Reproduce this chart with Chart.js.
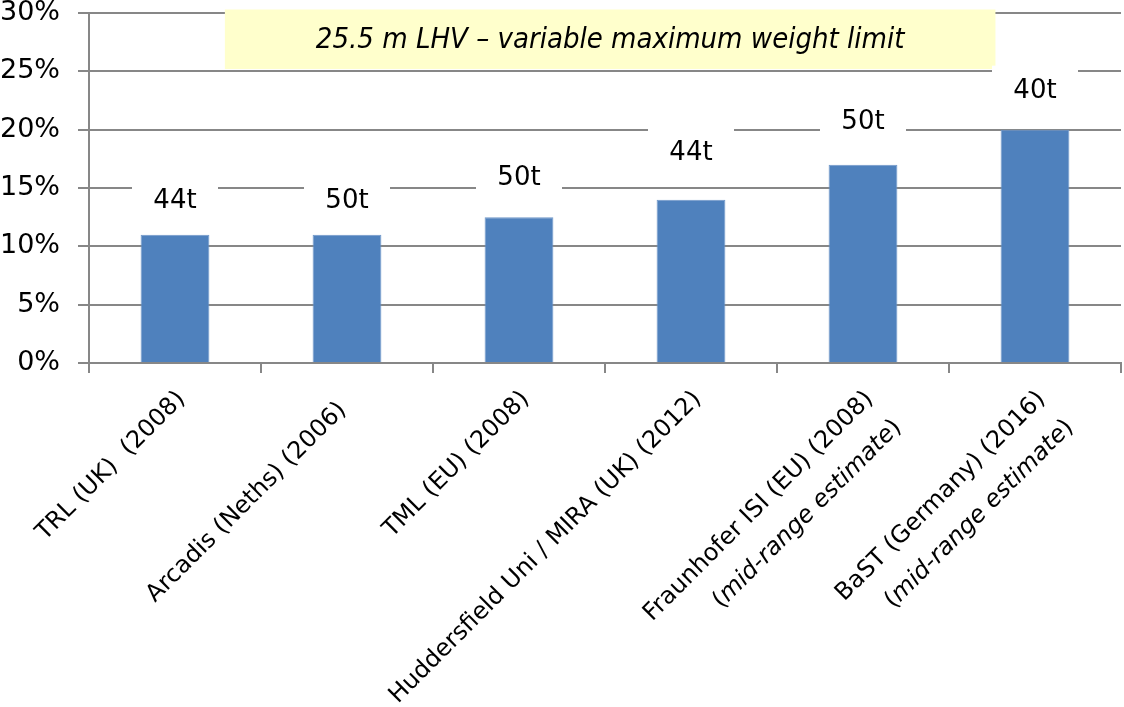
<!DOCTYPE html>
<html>
<head>
<meta charset="utf-8">
<script src="https://cdn.jsdelivr.net/npm/chart.js@4.4.0/dist/chart.umd.min.js"></script>
<style>
    html, body { margin: 0; padding: 0; background: #ffffff; }
</style>
</head>
<body>
<canvas id="myChart" width="1124" height="707"></canvas>
<script>

// dades
const estudis = ["TRL (UK)  (2008)", "Arcadis (Neths) (2006)  ", "TML (EU) (2008)",
                 "Huddersfield Uni / MIRA (UK) (2012)", "Fraunhofer ISI (EU) (2008)", "BaST (Germany) (2016)"];
const estudis_linia2 = ["", "", "", "", "mid-range estimate", "mid-range estimate"];
const augment = [11, 11, 12.5, 14, 17, 20];
const pes_max = ["44t", "50t", "50t", "44t", "50t", "40t"];
const etiquetes_y = ["0%", "5%", "10%", "15%", "20%", "25%", "30%"];
const titol_caixa = "25.5 m LHV \u2013 variable maximum weight limit";

const gris = '#878787';
const font_base = "'DejaVu Sans', sans-serif";

// caixa groga del titol (coordenades en unitats d'eix)
const caixaGroga = {
    id: 'caixaGroga',
    beforeDatasetsDraw(chart) {
        const ctx = chart.ctx;
        const x = chart.scales.x, y = chart.scales.y;
        const x0 = x.getPixelForValue(0.29), x1 = x.getPixelForValue(4.77);
        const y0 = y.getPixelForValue(30.3), y1 = y.getPixelForValue(25.2);
        ctx.save();
        ctx.fillStyle = '#FFFFCC';
        ctx.fillRect(x0, y0, x1 - x0, y1 - y0);
        ctx.fillStyle = '#000';
        ctx.font = "italic 29px 'DejaVu Sans Condensed', 'Liberation Sans Narrow', sans-serif";
        ctx.textAlign = 'center';
        ctx.textBaseline = 'middle';
        ctx.fillText(titol_caixa, (x0 + x1) / 2, (y0 + y1) / 2 + 1);
        ctx.restore();
    }
};

// etiquetes de pes damunt les barres, amb fons blanc
const etiquetesPes = {
    id: 'etiquetesPes',
    afterDatasetsDraw(chart) {
        const ctx = chart.ctx;
        const meta = chart.getDatasetMeta(0);
        const despl = [34, 34, 40, 47, 43, 39];
        ctx.save();
        ctx.font = "26px " + font_base;
        ctx.textAlign = 'center';
        ctx.textBaseline = 'middle';
        meta.data.forEach(function(bar, i) {
            const cy = bar.y - despl[i];
            ctx.fillStyle = '#ffffff';
            ctx.fillRect(bar.x - 43, cy - 25, 86, 50);
            ctx.fillStyle = '#000000';
            ctx.fillText(pes_max[i], bar.x, cy + 1);
        });
        ctx.restore();
    }
};

// etiquetes de l'eix x girades 45 graus
const etiquetesX = {
    id: 'etiquetesX',
    afterDraw(chart) {
        const ctx = chart.ctx;
        const x = chart.scales.x;
        const base = chart.chartArea.bottom;
        const normal = "24px " + font_base;
        const cursiva = "italic 24px " + font_base;
        ctx.save();
        ctx.fillStyle = '#000000';
        ctx.textBaseline = 'alphabetic';
        estudis.forEach(function(txt, i) {
            const cx = x.getPixelForValue(i);
            ctx.save();
            ctx.translate(cx + 11, base + 37);
            ctx.rotate(-Math.PI / 4);
            ctx.textAlign = 'right';
            ctx.font = normal;
            ctx.fillText(txt, 0, 0);
            if (estudis_linia2[i] != "") {
                // "(" normal + text en cursiva + ")" normal
                let px = 0;
                ctx.font = normal;
                ctx.fillText(")", px, 40);
                px -= ctx.measureText(")").width;
                ctx.font = cursiva;
                ctx.fillText(estudis_linia2[i], px, 40);
                px -= ctx.measureText(estudis_linia2[i]).width;
                ctx.font = normal;
                ctx.fillText("(", px, 40);
            }
            ctx.restore();
        });
        ctx.restore();
    }
};

const ctx = document.getElementById('myChart').getContext('2d');
const myChart = new Chart(ctx, {
    type: 'bar',
    data: {
        labels: estudis,
        datasets: [
            {
                data: augment,
                backgroundColor: '#4F81BD',
                borderColor: '#6F97C9',
                borderWidth: 1,
                categoryPercentage: 1,
                barPercentage: 0.4
            }
        ]
    },
    options: {
        responsive: false,
        devicePixelRatio: 1,
        animation: false,
        layout: {
            padding: { top: 13, right: 3, left: 0, bottom: 0 }
        },
        plugins: {
            legend: { display: false },
            tooltip: { enabled: false },
            title: { display: false }
        },
        scales: {
            x: {
                type: 'category',
                offset: true,
                grid: {
                    offset: true,
                    drawOnChartArea: false,
                    color: gris,
                    lineWidth: 2,
                    tickLength: 10
                },
                border: { color: gris, width: 2 },
                ticks: { display: false },
                afterFit: function(scale) { scale.height = 344; }
            },
            y: {
                min: 0,
                max: 30,
                ticks: {
                    stepSize: 5,
                    color: '#000000',
                    padding: 18,
                    font: { family: font_base, size: 27 },
                    callback: function(value, index) { return etiquetes_y[index]; }
                },
                grid: {
                    color: gris,
                    lineWidth: 2,
                    tickLength: 11
                },
                border: { color: gris, width: 2 },
                afterFit: function(scale) {
                    scale.width = 89;
                    scale.paddingTop = 0;
                    scale.paddingBottom = 0;
                }
            }
        }
    },
    plugins: [caixaGroga, etiquetesPes, etiquetesX]
});
</script>
</body>
</html>
